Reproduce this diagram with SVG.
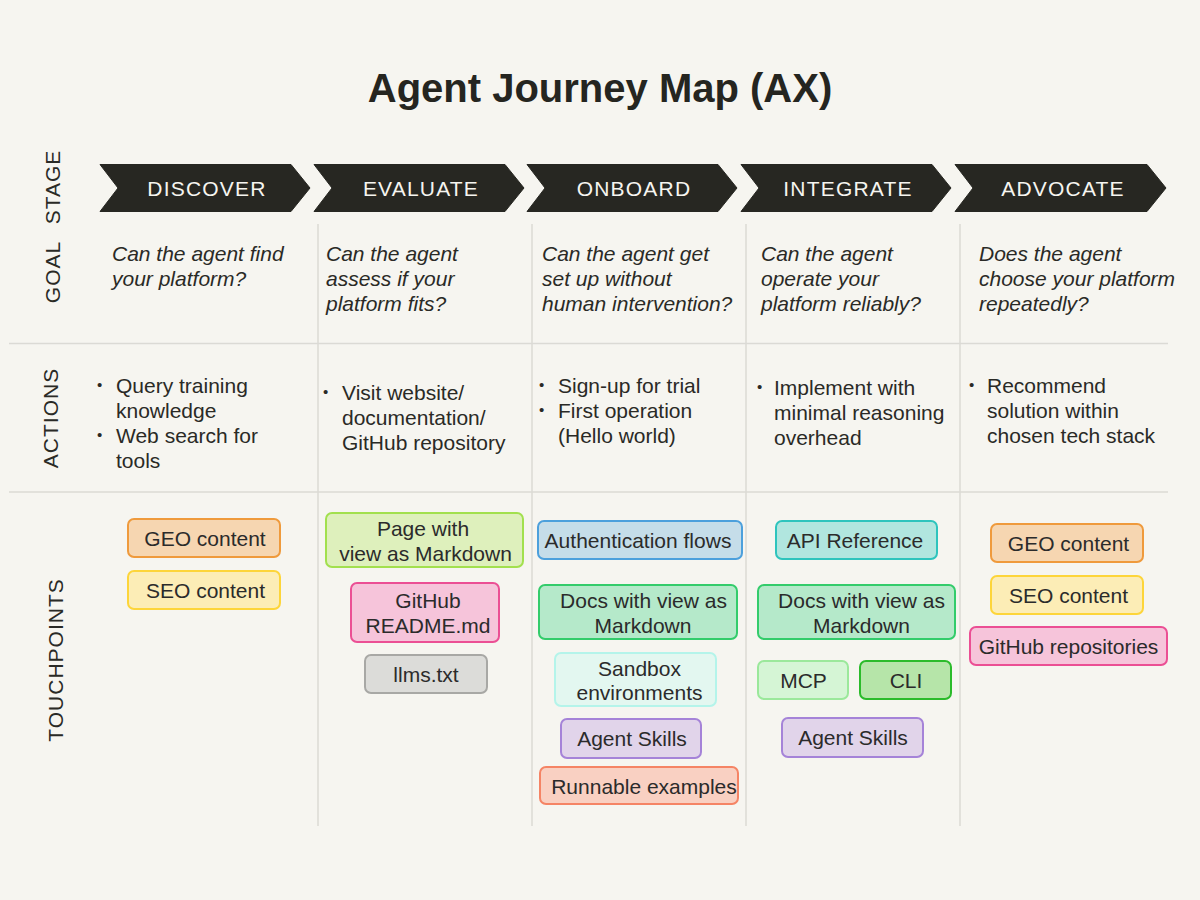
<svg xmlns="http://www.w3.org/2000/svg" width="1200" height="900" viewBox="0 0 1200 900">
<style>
text{font-family:"Liberation Sans",Arial,Helvetica,sans-serif;fill:#2a2a26}
.title{font-size:40px;font-weight:bold;fill:#252520}
.row{font-size:21px;letter-spacing:1px}
.stage{font-size:21px;letter-spacing:1.2px;fill:#f6f5f0}
.goal{font-size:21px;font-style:italic}
.act{font-size:21px}
.bul{font-size:15px}
.tp{font-size:21px;text-anchor:middle;fill:#2b2b2b}
.chev{fill:#272722;stroke:#272722;stroke-width:1;stroke-linejoin:round}
.grid{stroke:#dbdad5;stroke-width:1.5;fill:none}
.box{stroke-width:2}
.geo{fill:#f6d6b1;stroke:#ef9a3c}
.seo{fill:#fcedb6;stroke:#fdd53a}
.page{fill:#def0bc;stroke:#a2e04e}
.pink{fill:#f6c4da;stroke:#eb4f94}
.llms{fill:#dcdcd9;stroke:#a8a8a5}
.auth{fill:#c5dde9;stroke:#4ca0dc}
.docs{fill:#b5e9ca;stroke:#33cc6b}
.sand{fill:#e3f7f0;stroke:#b4f4ea}
.skill{fill:#e1d4ea;stroke:#a583d8}
.run{fill:#f9d0c2;stroke:#f58465}
.api{fill:#b1e6df;stroke:#2ec4bd}
.mcp{fill:#d5f5d5;stroke:#9be89b}
.cli{fill:#b6e5a9;stroke:#2bbb2b}
</style>
<rect x="0" y="0" width="1200" height="900" fill="#f6f5f0"/>

<text class="title" x="600" y="102" text-anchor="middle">Agent Journey Map (AX)</text>

<g id="row-labels">
<text class="row" transform="translate(60,187) rotate(-90)" text-anchor="middle">STAGE</text>
<text class="row" transform="translate(60,272) rotate(-90)" text-anchor="middle">GOAL</text>
<text class="row" transform="translate(58,418) rotate(-90)" text-anchor="middle">ACTIONS</text>
<text class="row" transform="translate(63,660) rotate(-90)" text-anchor="middle">TOUCHPOINTS</text>
</g>

<g id="grid-lines">
<line class="grid" x1="9" y1="343.5" x2="1168" y2="343.5"/>
<line class="grid" x1="9" y1="492" x2="1168" y2="492"/>
<line class="grid" x1="318" y1="224" x2="318" y2="826"/>
<line class="grid" x1="532" y1="224" x2="532" y2="826"/>
<line class="grid" x1="746" y1="224" x2="746" y2="826"/>
<line class="grid" x1="960" y1="224" x2="960" y2="826"/>
</g>

<g id="stage-discover">
<polygon class="chev" points="100,164.5 291,164.5 310,188 291,211.5 100,211.5 118,188"/>
<text class="stage" x="207" y="195.5" text-anchor="middle">DISCOVER</text>
</g>
<g id="stage-evaluate">
<polygon class="chev" points="314,164.5 505,164.5 524,188 505,211.5 314,211.5 332,188"/>
<text class="stage" x="421" y="195.5" text-anchor="middle">EVALUATE</text>
</g>
<g id="stage-onboard">
<polygon class="chev" points="527,164.5 718,164.5 737,188 718,211.5 527,211.5 545,188"/>
<text class="stage" x="634" y="195.5" text-anchor="middle">ONBOARD</text>
</g>
<g id="stage-integrate">
<polygon class="chev" points="741,164.5 932,164.5 951,188 932,211.5 741,211.5 759,188"/>
<text class="stage" x="848" y="195.5" text-anchor="middle">INTEGRATE</text>
</g>
<g id="stage-advocate">
<polygon class="chev" points="955,164.5 1147,164.5 1166,188 1147,211.5 955,211.5 973,188"/>
<text class="stage" x="1063" y="195.5" text-anchor="middle">ADVOCATE</text>
</g>

<g id="goals">
<text class="goal" x="112" y="261">Can the agent find</text>
<text class="goal" x="112" y="286">your platform?</text>
<text class="goal" x="326" y="261">Can the agent</text>
<text class="goal" x="326" y="286">assess if your</text>
<text class="goal" x="326" y="311">platform fits?</text>
<text class="goal" x="542" y="261">Can the agent get</text>
<text class="goal" x="542" y="286">set up without</text>
<text class="goal" x="542" y="311">human intervention?</text>
<text class="goal" x="761" y="261">Can the agent</text>
<text class="goal" x="761" y="286">operate your</text>
<text class="goal" x="761" y="311">platform reliably?</text>
<text class="goal" x="979" y="261">Does the agent</text>
<text class="goal" x="979" y="286">choose your platform</text>
<text class="goal" x="979" y="311">repeatedly?</text>
</g>

<g id="actions">
<text class="bul" x="97" y="390">•</text>
<text class="act" x="116" y="393">Query training</text>
<text class="act" x="116" y="418">knowledge</text>
<text class="bul" x="97" y="440">•</text>
<text class="act" x="116" y="443">Web search for</text>
<text class="act" x="116" y="468">tools</text>

<text class="bul" x="323" y="397">•</text>
<text class="act" x="342" y="400">Visit website/</text>
<text class="act" x="342" y="425">documentation/</text>
<text class="act" x="342" y="450">GitHub repository</text>

<text class="bul" x="539" y="390">•</text>
<text class="act" x="558" y="393">Sign-up for trial</text>
<text class="bul" x="539" y="415">•</text>
<text class="act" x="558" y="418">First operation</text>
<text class="act" x="558" y="443">(Hello world)</text>

<text class="bul" x="757" y="392">•</text>
<text class="act" x="774" y="395">Implement with</text>
<text class="act" x="774" y="420">minimal reasoning</text>
<text class="act" x="774" y="445">overhead</text>

<text class="bul" x="969" y="390">•</text>
<text class="act" x="987" y="393">Recommend</text>
<text class="act" x="987" y="418">solution within</text>
<text class="act" x="987" y="443">chosen tech stack</text>
</g>

<g id="tp-discover-geo"><rect class="box geo" x="128" y="519" width="152" height="38" rx="6"/><text class="tp" x="205" y="545.5">GEO content</text></g>
<g id="tp-discover-seo"><rect class="box seo" x="128" y="571" width="152" height="38" rx="6"/><text class="tp" x="205.5" y="597.5">SEO content</text></g>

<g id="tp-evaluate-page"><rect class="box page" x="326" y="513" width="197" height="54" rx="6"/><text class="tp" x="423" y="535.5">Page with</text><text class="tp" x="425.5" y="560.5">view as Markdown</text></g>
<g id="tp-evaluate-readme"><rect class="box pink" x="351" y="583" width="148" height="59" rx="6"/><text class="tp" x="428" y="608">GitHub</text><text class="tp" x="428" y="633">README.md</text></g>
<g id="tp-evaluate-llms"><rect class="box llms" x="365" y="655" width="122" height="38" rx="6"/><text class="tp" x="426" y="681.5">llms.txt</text></g>

<g id="tp-onboard-auth"><rect class="box auth" x="538" y="521" width="204" height="38" rx="6"/><text class="tp" x="638" y="547.5">Authentication flows</text></g>
<g id="tp-onboard-docs"><rect class="box docs" x="539" y="585" width="198" height="54" rx="6"/><text class="tp" x="643.5" y="608">Docs with view as</text><text class="tp" x="643" y="633">Markdown</text></g>
<g id="tp-onboard-sandbox"><rect class="box sand" x="555" y="653" width="161" height="53" rx="6"/><text class="tp" x="639.5" y="675.5">Sandbox</text><text class="tp" x="639.5" y="700">environments</text></g>
<g id="tp-onboard-skills"><rect class="box skill" x="561" y="719" width="140" height="39" rx="6"/><text class="tp" x="632" y="746">Agent Skills</text></g>
<g id="tp-onboard-runnable"><rect class="box run" x="540" y="767" width="198" height="37" rx="6"/><text class="tp" x="644" y="794">Runnable examples</text></g>

<g id="tp-integrate-api"><rect class="box api" x="776" y="521" width="161" height="38" rx="6"/><text class="tp" x="855" y="547.5">API Reference</text></g>
<g id="tp-integrate-docs"><rect class="box docs" x="758" y="585" width="197" height="54" rx="6"/><text class="tp" x="861.5" y="608">Docs with view as</text><text class="tp" x="861.5" y="633">Markdown</text></g>
<g id="tp-integrate-mcp"><rect class="box mcp" x="758" y="661" width="90" height="38" rx="6"/><text class="tp" x="803.5" y="687.5">MCP</text></g>
<g id="tp-integrate-cli"><rect class="box cli" x="860" y="661" width="91" height="38" rx="6"/><text class="tp" x="906" y="687.5">CLI</text></g>
<g id="tp-integrate-skills"><rect class="box skill" x="782" y="718" width="141" height="39" rx="6"/><text class="tp" x="853" y="745">Agent Skills</text></g>

<g id="tp-advocate-geo"><rect class="box geo" x="991" y="524" width="152" height="38" rx="6"/><text class="tp" x="1068.5" y="550.5">GEO content</text></g>
<g id="tp-advocate-seo"><rect class="box seo" x="991" y="576" width="152" height="38" rx="6"/><text class="tp" x="1068.5" y="602.5">SEO content</text></g>
<g id="tp-advocate-github"><rect class="box pink" x="970" y="627" width="197" height="38" rx="6"/><text class="tp" x="1068.5" y="653.5">GitHub repositories</text></g>

<g id="connectors"></g>
</svg>
